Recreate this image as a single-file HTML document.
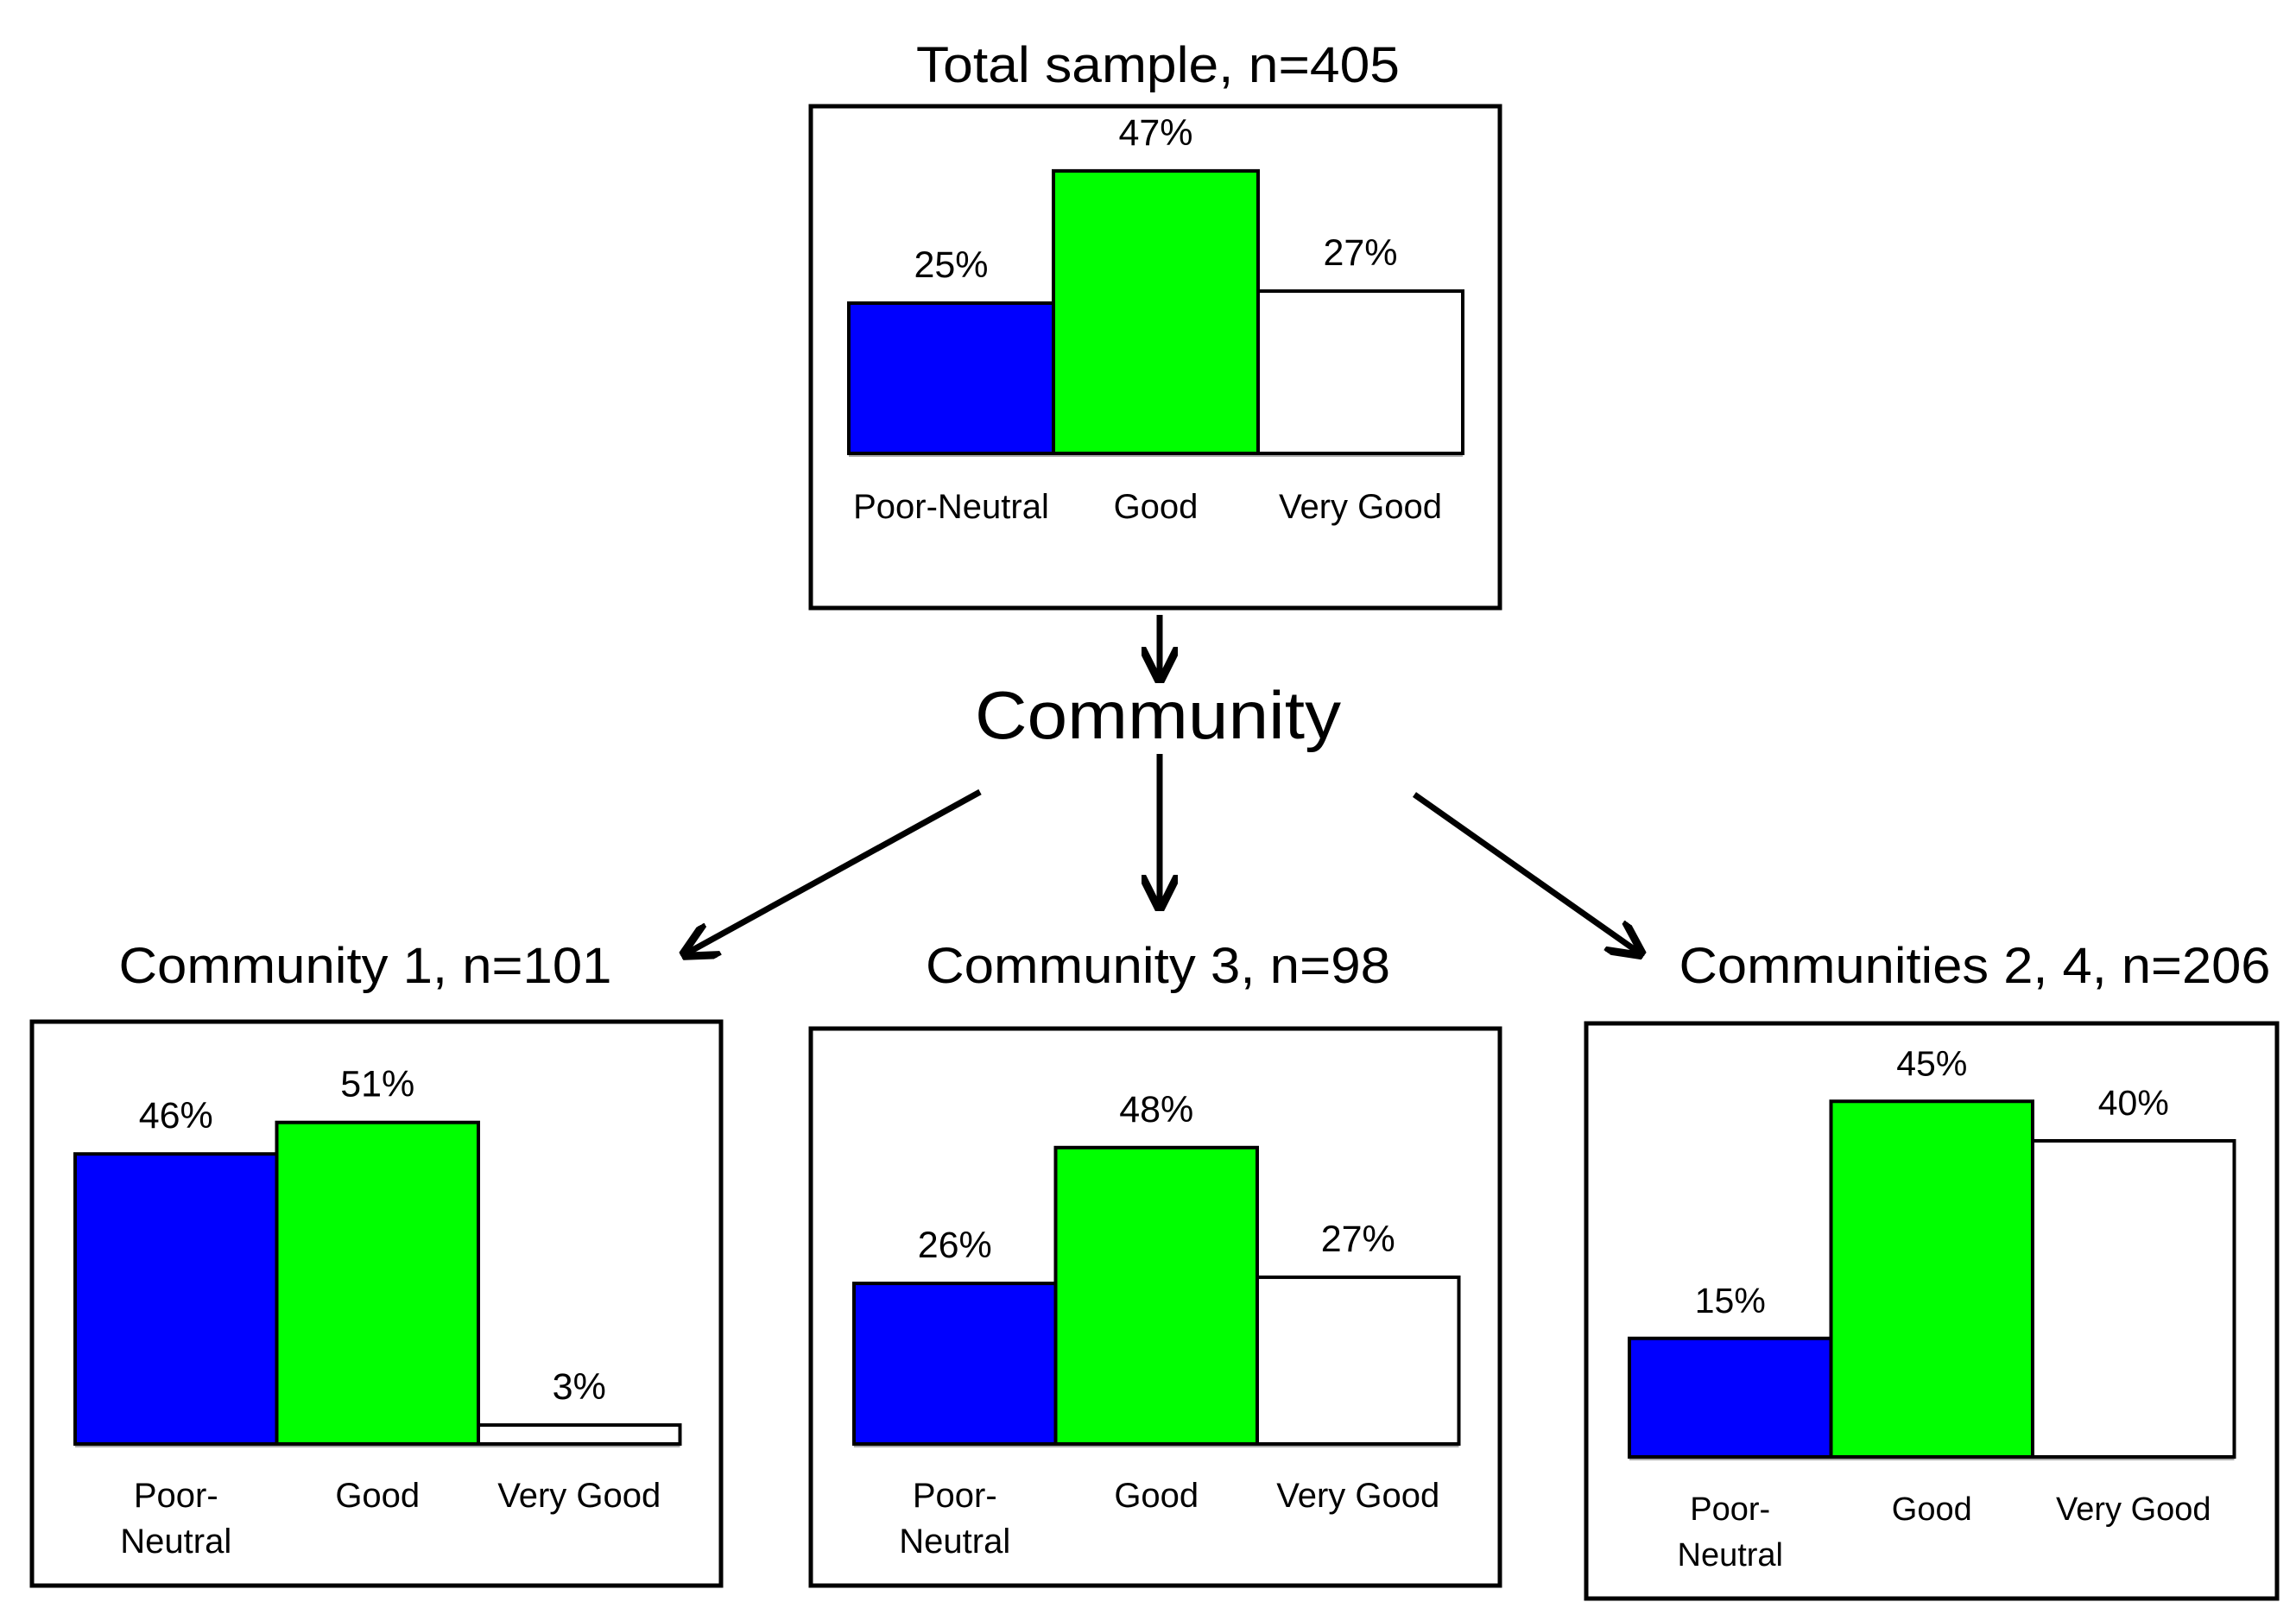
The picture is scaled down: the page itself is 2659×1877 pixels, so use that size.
<!DOCTYPE html>
<html><head><meta charset="utf-8"><style>
html,body{margin:0;padding:0;background:#fff;}
svg{display:block;font-family:"Liberation Sans",sans-serif;}
</style></head><body>
<svg id="c" width="2659" height="1877" viewBox="0 0 2659 1877" xmlns="http://www.w3.org/2000/svg">
<defs><marker id="ah" markerWidth="6" markerHeight="6" refX="5" refY="3" orient="auto" markerUnits="strokeWidth"><path d="M0,0 L6,3 L0,6" fill="none" stroke="#000" stroke-width="1.3"/></marker></defs>
<g stroke="#000" stroke-width="7" fill="none">
<line x1="1343" y1="712" x2="1343" y2="784" marker-end="url(#ah)"/>
<line x1="1343" y1="873" x2="1343" y2="1048" marker-end="url(#ah)"/>
<line x1="1135" y1="917" x2="795" y2="1104" marker-end="url(#ah)"/>
<line x1="1638" y1="920" x2="1898" y2="1103" marker-end="url(#ah)"/>
</g>
<text x="1341" y="855" font-size="78" text-anchor="middle" textLength="424" lengthAdjust="spacingAndGlyphs">Community</text>
</svg>
<script>
const categories = ["Poor-Neutral", "Good", "Very Good"];
const totalValues = [25, 47, 27];
const comm1Values = [46, 51, 3];
const comm3Values = [26, 48, 27];
const comm24Values = [15, 45, 40];
const panelTitles = ["Total sample, n=405", "Community 1, n=101", "Community 3, n=98", "Communities 2, 4, n=206"];
const colors = ["#0000ff", "#00ff00", "#ffffff"];
const NS = "http://www.w3.org/2000/svg";
const svg = document.getElementById('c');
function mk(tag, attrs, parent){const e=document.createElementNS(NS,tag);for(const k in attrs)e.setAttribute(k,attrs[k]);(parent||svg).appendChild(e);return e;}
const layouts = [
 {vals: totalValues, box:[939,123,1737,704], x0:983, bw:237, base:525, ppu:6.96, tx:1341, ty:95, tw:560, lf:40, split:false, catY:600},
 {vals: comm1Values, box:[37,1183,835,1836], x0:87, bw:233.5, base:1672, ppu:7.3, tx:423, ty:1138, tw:571, lf:40, split:true, catY:1745},
 {vals: comm3Values, box:[939,1191,1737,1836], x0:989, bw:233.5, base:1672, ppu:7.15, tx:1341, ty:1138, tw:538, lf:40, split:true, catY:1745},
 {vals: comm24Values, box:[1837,1185,2637,1851], x0:1887, bw:233.5, base:1687, ppu:9.15, tx:2287, ty:1138, tw:685, lf:38, split:true, catY:1760}
];
layouts.forEach((L,pi)=>{
 const g = mk('g',{});
 
 
 const t = mk('text',{x:L.tx,y:L.ty,'font-size':58,'text-anchor':'middle',textLength:L.tw,lengthAdjust:'spacingAndGlyphs'},g);
 t.textContent = panelTitles[pi];
 
 
 const b = L.box;
 const r = mk('rect',{x:b[0],y:b[1],width:b[2]-b[0],height:b[3]-b[1],fill:'none',stroke:'#000','stroke-width':5},g);
 
 
 const ax = mk('line',{x1:L.x0,y1:L.base+2,x2:L.x0+3*L.bw,y2:L.base+2,stroke:'#aaa','stroke-width':4},g);
 
 
 L.vals.forEach((v,i)=>{
  const h = v*L.ppu, x = L.x0+i*L.bw, cx = x+L.bw/2;
  const bar = mk('rect',{x:x,y:L.base-h,width:L.bw,height:h,fill:colors[i],stroke:'#000','stroke-width':4},g);
  
  
  const vl = mk('text',{x:cx,y:L.base-h-30,'font-size':L.lf+3,'text-anchor':'middle'},g);
  vl.textContent = v+'%';
  
  
  const cat = categories[i];
  if(L.split && cat==='Poor-Neutral'){
   const c1 = mk('text',{x:cx,y:L.catY,'font-size':L.lf,'text-anchor':'middle'},g);
   c1.textContent='Poor-';
   
   
   const c2 = mk('text',{x:cx,y:L.catY+53,'font-size':L.lf,'text-anchor':'middle'},g);
   c2.textContent='Neutral';
   
   
  } else {
   const c = mk('text',{x:cx,y:L.catY,'font-size':L.lf,'text-anchor':'middle'},g);
   c.textContent=cat;
   
   
  }
 });
});
</script>
</body></html>
